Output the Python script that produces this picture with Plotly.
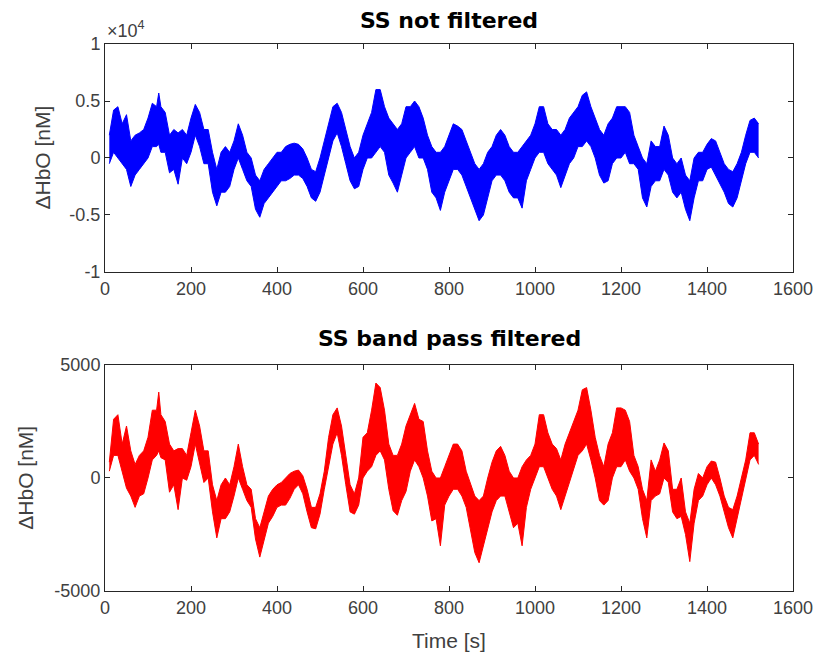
import plotly.graph_objects as go

# time grid (s) of envelope samples
time_s = [10, 20, 30, 40, 50, 60, 70, 80, 90, 100, 110, 120, 125, 130, 140, 150, 160, 170, 180, 190,
          200, 210, 220, 230, 240, 250, 260, 270, 280, 290, 300, 310, 320, 330, 340, 350, 360, 370, 380, 390,
          400, 410, 420, 430, 440, 450, 460, 470, 480, 490, 500, 510, 520, 530, 540, 550, 560, 570, 580, 590,
          600, 610, 620, 630, 640, 650, 660, 670, 680, 690, 700, 710, 720, 730, 740, 750, 760, 770, 780, 790,
          800, 810, 820, 830, 840, 850, 860, 870, 880, 890, 900, 910, 920, 930, 940, 950, 960, 970, 980, 990,
          1000, 1010, 1020, 1030, 1040, 1050, 1060, 1070, 1080, 1090, 1100, 1110, 1120, 1130, 1140, 1150, 1160, 1170, 1180, 1190,
          1200, 1210, 1220, 1230, 1240, 1250, 1260, 1270, 1280, 1290, 1300, 1310, 1320, 1330, 1340, 1350, 1360, 1370, 1380, 1390,
          1400, 1410, 1420, 1430, 1440, 1450, 1460, 1470, 1480, 1490, 1500, 1510, 1520]

# raw signal (x1e4 nM) upper / lower envelope
raw_upper = [0.2, 0.42, 0.45, 0.3, 0.38, 0.15, 0.2, 0.22, 0.25, 0.35, 0.48, 0.45, 0.57, 0.45, 0.4, 0.2, 0.25, 0.22, 0.25, 0.2,
             0.35, 0.47, 0.4, 0.25, 0.25, 0.05, -0.1, 0.05, 0.1, 0.05, 0.15, 0.3, 0.2, 0.05, 0.0, -0.15, -0.2, -0.1, -0.05, 0.0,
             0.05, 0.05, 0.1, 0.12, 0.13, 0.12, 0.08, 0.0, -0.1, -0.12, 0.0, 0.15, 0.3, 0.45, 0.48, 0.4, 0.25, 0.1, 0.0, 0.05,
             0.2, 0.3, 0.4, 0.6, 0.6, 0.45, 0.35, 0.3, 0.25, 0.3, 0.45, 0.45, 0.5, 0.45, 0.35, 0.2, 0.1, 0.05, 0.05, 0.1,
             0.2, 0.3, 0.28, 0.25, 0.15, 0.05, -0.05, -0.1, -0.05, 0.05, 0.1, 0.2, 0.25, 0.2, 0.1, 0.05, 0.05, 0.1, 0.15, 0.2,
             0.3, 0.45, 0.45, 0.3, 0.25, 0.25, 0.2, 0.25, 0.35, 0.4, 0.45, 0.55, 0.58, 0.45, 0.35, 0.25, 0.2, 0.3, 0.35, 0.45,
             0.45, 0.45, 0.4, 0.2, 0.1, 0.0, -0.05, 0.15, 0.1, 0.1, 0.28, 0.2, 0.0, -0.05, 0.0, -0.15, -0.2, 0.0, 0.05, 0.05,
             0.12, 0.17, 0.15, 0.05, -0.05, -0.1, -0.12, -0.05, 0.05, 0.2, 0.33, 0.35, 0.3]
raw_lower = [-0.05, 0.05, 0.0, -0.05, -0.1, -0.25, -0.15, -0.1, -0.05, 0.0, 0.1, 0.1, 0.12, 0.05, 0.05, -0.13, -0.1, -0.23, 0.0, -0.05,
             0.05, 0.2, 0.1, -0.05, -0.05, -0.3, -0.42, -0.3, -0.3, -0.25, -0.1, 0.0, -0.1, -0.2, -0.25, -0.45, -0.52, -0.4, -0.35, -0.3,
             -0.25, -0.2, -0.2, -0.18, -0.15, -0.15, -0.18, -0.25, -0.35, -0.38, -0.3, -0.15, 0.0, 0.15, 0.22, 0.1, -0.05, -0.2, -0.27, -0.25,
             -0.1, 0.0, 0.0, 0.05, 0.1, 0.05, -0.15, -0.22, -0.3, -0.15, 0.0, 0.05, 0.1, 0.0, 0.0, -0.1, -0.3, -0.35, -0.46, -0.3,
             -0.2, -0.1, -0.1, -0.15, -0.25, -0.35, -0.45, -0.55, -0.5, -0.35, -0.2, -0.15, -0.15, -0.2, -0.3, -0.35, -0.35, -0.44, -0.2, -0.1,
             0.0, 0.05, 0.05, -0.05, -0.1, -0.15, -0.26, -0.15, -0.05, 0.0, 0.1, 0.1, 0.15, 0.1, 0.0, -0.15, -0.22, -0.2, -0.05, 0.0,
             0.0, 0.05, -0.05, -0.05, -0.1, -0.35, -0.43, -0.25, -0.2, -0.2, -0.1, -0.15, -0.3, -0.35, -0.3, -0.45, -0.55, -0.35, -0.2, -0.2,
             -0.1, -0.08, -0.15, -0.22, -0.3, -0.4, -0.43, -0.35, -0.2, -0.05, 0.05, 0.05, 0.0]

# band-pass filtered signal (nM) upper / lower envelope
filt_upper = [700, 2600, 2800, 1500, 2300, 1200, 600, 1000, 1200, 1800, 3000, 3000, 3800, 2800, 2500, 1500, 1200, 1300, 1300, 1000,
              2000, 3000, 2300, 1200, 1200, -300, -1000, -300, 0, -300, 500, 1500, 500, -300, -500, -1800, -2200, -1500, -800, -500,
              -300, -200, 0, 200, 300, 350, 100, -500, -1300, -1300, -700, 300, 1800, 2800, 3100, 2300, 1000, -300, -700, 0,
              1800, 2000, 3000, 4200, 4000, 3000, 1500, 1000, 1000, 1500, 2300, 2800, 3300, 2600, 2500, 1200, 300, 0, 0, 500,
              1000, 1500, 1500, 1200, 300, -300, -800, -1000, -800, 0, 700, 1200, 1400, 1000, 300, 0, 0, 500, 800, 1000,
              1500, 2800, 2800, 2000, 1500, 1300, 800, 1500, 2000, 2500, 3000, 3900, 4000, 3000, 1800, 1000, 500, 1500, 2000, 3100,
              3100, 3000, 2500, 1000, 500, -500, -1000, 800, 300, 800, 1550, 1200, -500, -500, 0, -1500, -2000, -500, 200, 0,
              500, 750, 700, 0, -800, -1300, -1400, -800, 0, 800, 2000, 2000, 1500]
filt_lower = [300, 1000, 1000, 300, -450, -800, -1300, -800, -700, 0, 800, 1000, 1200, 900, 800, -630, -300, -1400, 0, -100,
              500, 1500, 700, -200, 0, -1500, -2650, -1800, -1800, -1500, -800, 0, -500, -1000, -1300, -2700, -3500, -2700, -2000, -1700,
              -1300, -1200, -1200, -900, -500, -300, -700, -1500, -2200, -2250, -1600, -500, 500, 1500, 2000, 1000, -300, -1500, -1600, -1200,
              0, 300, 500, 1000, 1200, 800, -500, -1450, -1650, -1000, -600, 300, 800, 500, 0, -800, -1900, -1800, -3000, -1200,
              -800, -500, -500, -800, -1300, -2300, -3300, -3750, -3000, -2200, -1500, -1000, -800, -800, -1500, -2200, -2000, -3000, -1300, -500,
              0, 500, 500, 0, -500, -800, -1400, -800, -200, 500, 1000, 1200, 1500, 800, 0, -1000, -1200, -1000, 0, 500,
              500, 800, 300, 0, -500, -1800, -2650, -1000, -800, -700, 0, -200, -1500, -1800, -1700, -2500, -3700, -2000, -1000, -800,
              -300, 0, -300, -800, -1500, -2200, -2650, -1800, -800, 0, 800, 1000, 600]

raw_upper_nm = [v * 1e4 for v in raw_upper]
raw_lower_nm = [v * 1e4 for v in raw_lower]

x_ticks = [0, 200, 400, 600, 800, 1000, 1200, 1400, 1600]
top_y_ticks = [-10000, -5000, 0, 5000, 10000]
top_y_text = ["-1", "-0.5", "0", "0.5", "1"]
bot_y_ticks = [-5000, 0, 5000]
bot_y_text = ["-5000", "0", "5000"]

BLUE = "#0000ff"
RED = "#ff0000"

fig = go.Figure()
fig.add_trace(go.Scatter(x=time_s, y=raw_lower_nm, mode="lines", line=dict(color=BLUE, width=1),
                         xaxis="x", yaxis="y", showlegend=False, hoverinfo="skip"))
fig.add_trace(go.Scatter(x=time_s, y=raw_upper_nm, mode="lines", line=dict(color=BLUE, width=1),
                         fill="tonexty", fillcolor=BLUE, xaxis="x", yaxis="y", showlegend=False))
fig.add_trace(go.Scatter(x=time_s, y=filt_lower, mode="lines", line=dict(color=RED, width=1),
                         xaxis="x2", yaxis="y2", showlegend=False, hoverinfo="skip"))
fig.add_trace(go.Scatter(x=time_s, y=filt_upper, mode="lines", line=dict(color=RED, width=1),
                         fill="tonexty", fillcolor=RED, xaxis="x2", yaxis="y2", showlegend=False))

AX = "#262626"
SANS = "Arial, Liberation Sans, Helvetica, sans-serif"
TICKF = dict(family=SANS, size=18, color="#404040")
common_x = dict(range=[0, 1600], tickvals=x_ticks, ticks="inside", ticklen=5, tickcolor=AX,
                showline=True, linecolor=AX, linewidth=1, mirror="ticks", showgrid=False,
                zeroline=False, tickfont=TICKF)
common_y = dict(ticks="inside", ticklen=5, tickcolor=AX, showline=True, linecolor=AX, linewidth=1,
                mirror="ticks", showgrid=False, zeroline=False, tickfont=TICKF)

LBL = dict(family=SANS, size=21, color="#404040")
TTL = dict(family="DejaVu Sans, sans-serif", size=22, color="black")

TOP_DOM = [0.5832, 1]
BOT_DOM = [0, 0.4132]
PLOT_W = 825 - 105 - 26

fig.update_layout(
    width=825, height=659,
    margin=dict(l=105, r=26, t=44, b=68),
    plot_bgcolor="white", paper_bgcolor="white",
    xaxis=dict(domain=[0, 1], anchor="y", **common_x),
    yaxis=dict(domain=TOP_DOM, anchor="x", range=[-10000, 10000], tickvals=top_y_ticks,
               ticktext=top_y_text, **common_y),
    xaxis2=dict(domain=[0, 1], anchor="y2", **common_x),
    yaxis2=dict(domain=BOT_DOM, anchor="x2", range=[-5000, 5000], tickvals=bot_y_ticks,
                ticktext=bot_y_text, **common_y),
    annotations=[
        dict(text="<b>SS not filtered</b>", x=0.5, y=1, xref="paper", yref="paper", yshift=24,
             showarrow=False, yanchor="middle", font=TTL),
        dict(text="<b>SS band pass filtered</b>", x=0.5, y=BOT_DOM[1], xref="paper", yref="paper", yshift=26,
             showarrow=False, yanchor="middle", font=TTL),
        dict(text="×10<sup>4</sup>", x=0, y=1, xref="paper", yref="paper", xanchor="left", yanchor="bottom",
             yshift=1, showarrow=False, font=dict(family=SANS, size=18, color="#404040")),
        dict(text="ΔHbO [nM]", x=(42 - 105) / PLOT_W, y=(TOP_DOM[0] + TOP_DOM[1]) / 2, xref="paper", yref="paper",
             textangle=-90, showarrow=False, xanchor="center", yanchor="middle", font=LBL),
        dict(text="ΔHbO [nM]", x=(25 - 105) / PLOT_W, y=(BOT_DOM[0] + BOT_DOM[1]) / 2, xref="paper", yref="paper",
             textangle=-90, showarrow=False, xanchor="center", yanchor="middle", font=LBL),
        dict(text="Time [s]", x=0.5, y=0, xref="paper", yref="paper", yshift=-49,
             showarrow=False, xanchor="center", yanchor="middle", font=LBL),
    ],
)

fig.write_html("out.html")
